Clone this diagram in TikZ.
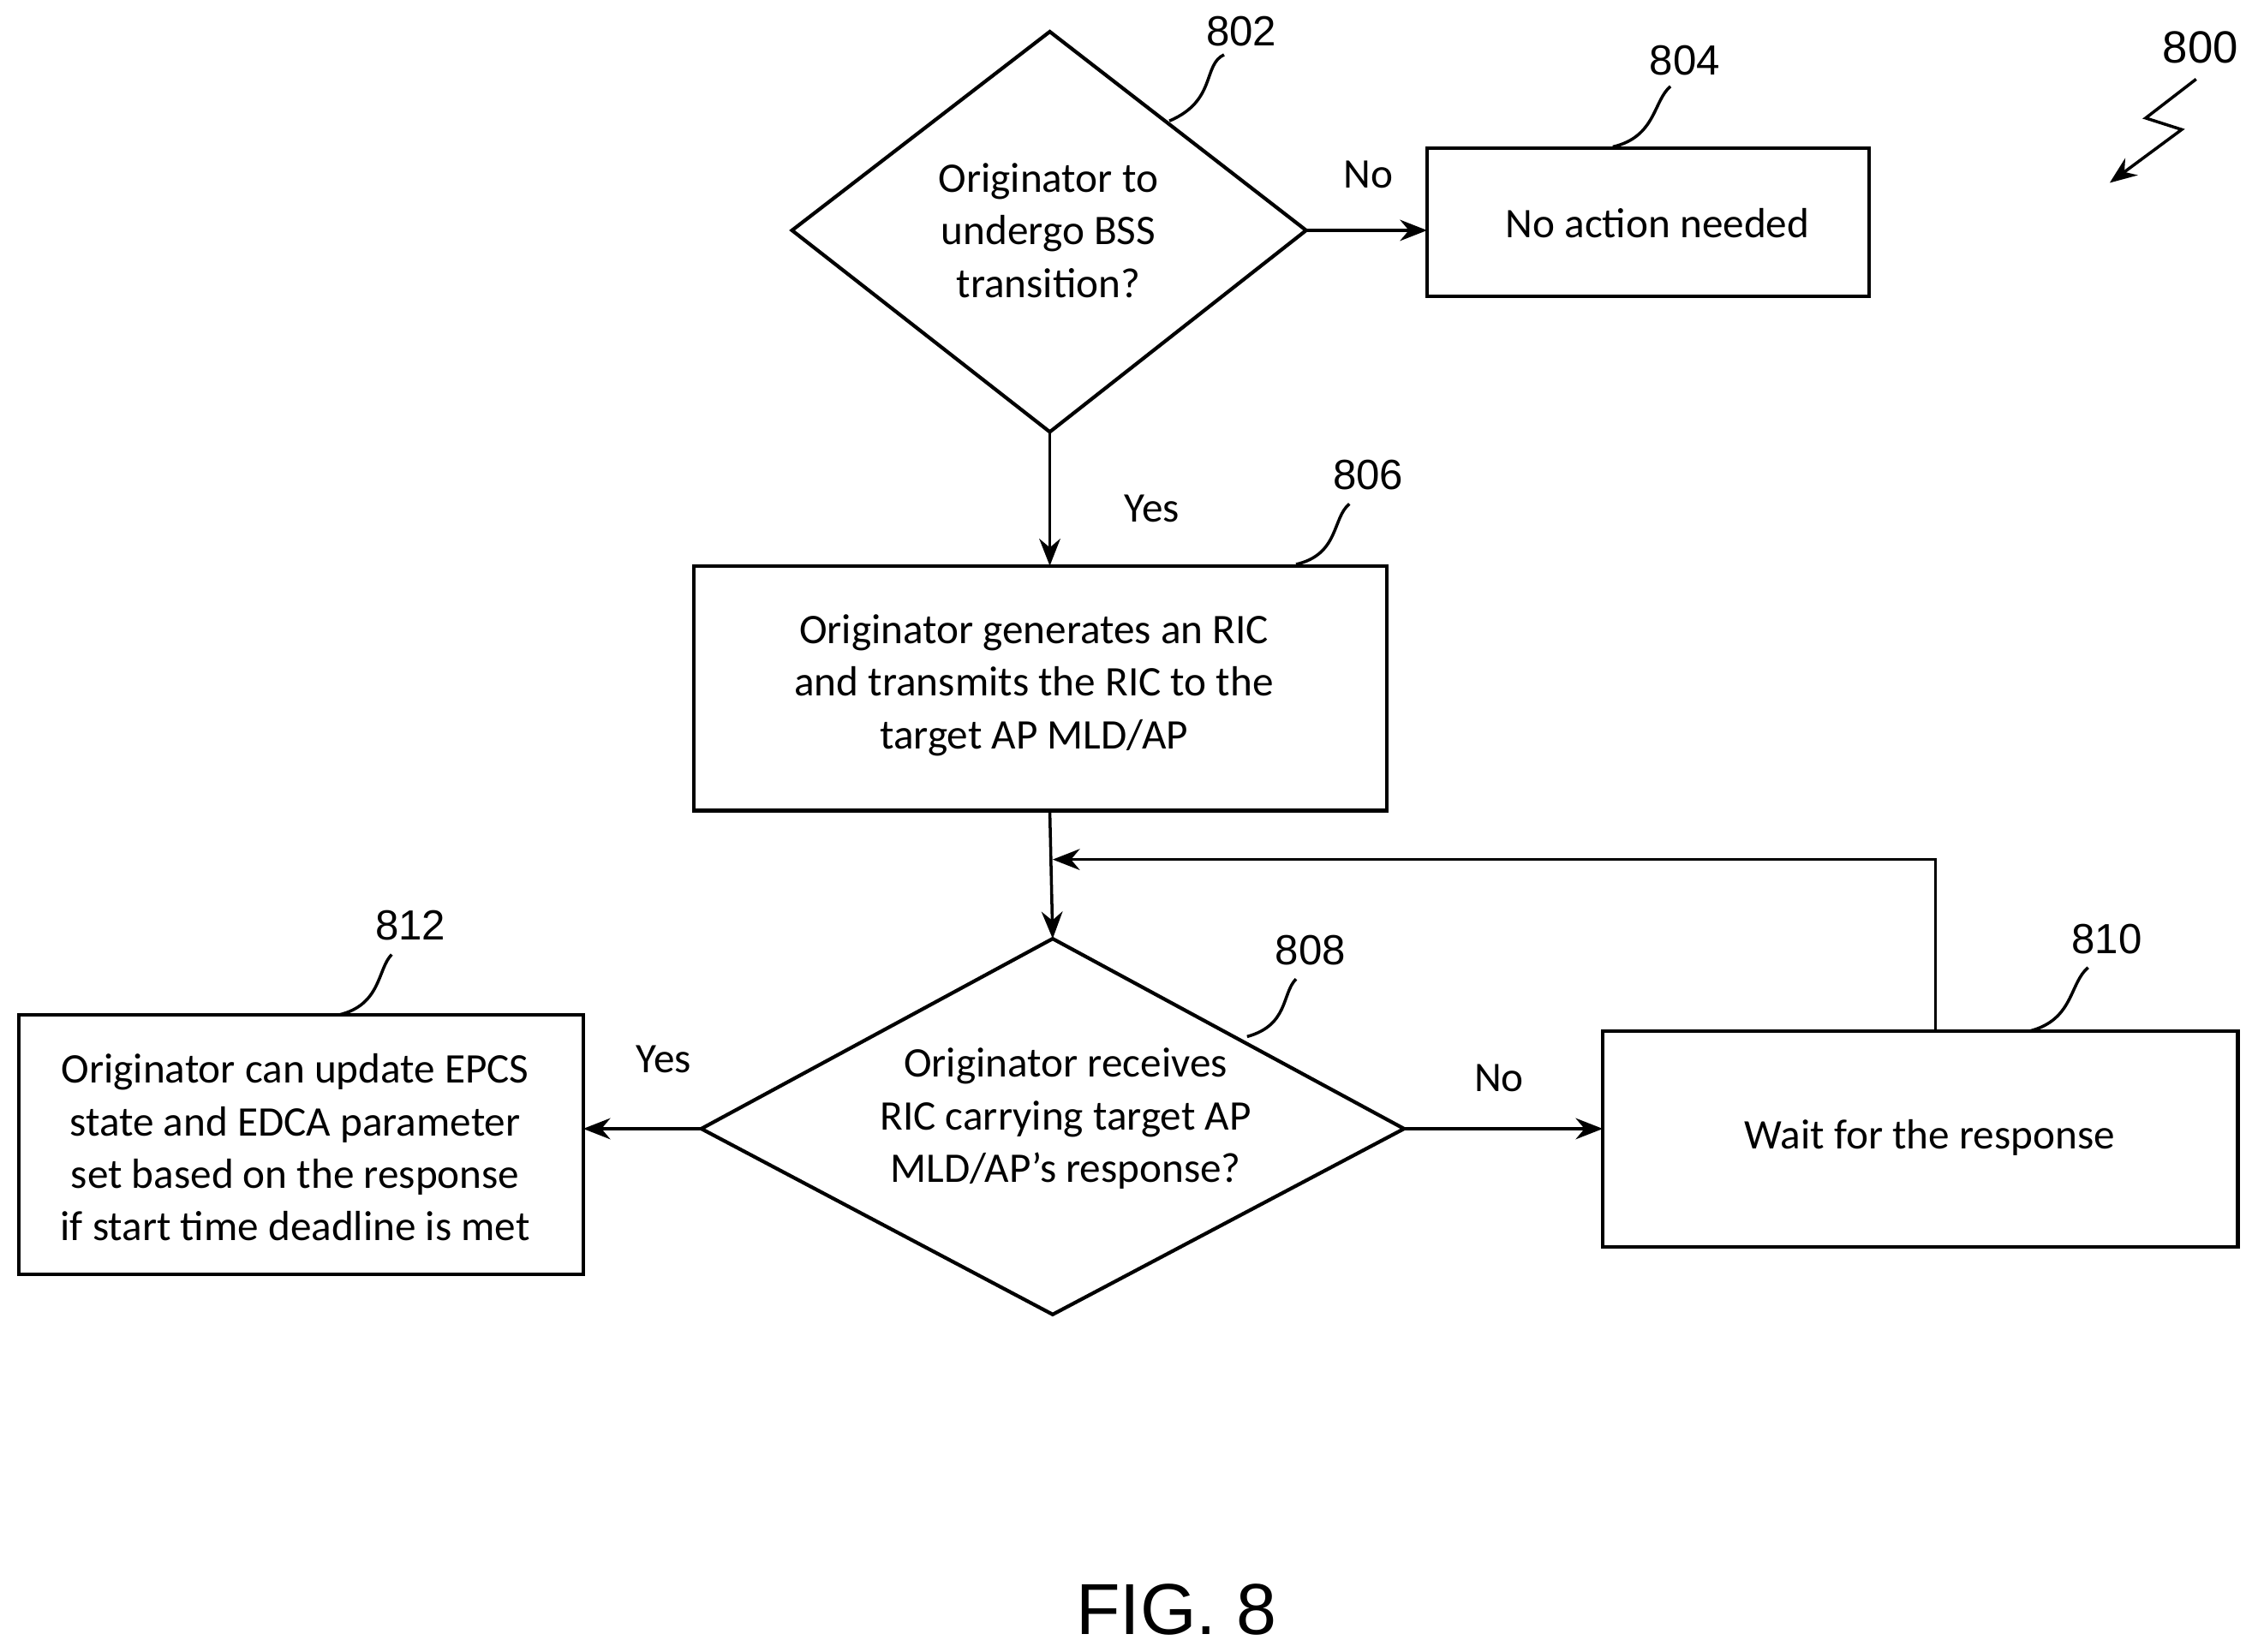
\documentclass[tikz,border=0pt]{standalone}
\usepackage{fontspec}
\setmainfont{Carlito}
\newfontfamily\numfont{Liberation Sans}
\usetikzlibrary{shapes.geometric,arrows.meta}
\begin{document}
\begin{tikzpicture}[x=0.01681cm,y=-0.01681cm,
  line width=1pt,
  box/.style={draw,line width=1.2pt,align=center,font=\fontsize{14}{17.5}\selectfont},
  txt/.style={align=center,font=\fontsize{14}{17.5}\selectfont},
  num/.style={font=\numfont\fontsize{14}{16}\selectfont},
  arr/.style={-{Stealth[length=9pt,width=7pt]},line width=1pt}]
\useasboundingbox (0,0) rectangle (1568,1147);
% diamond 802
\coordinate (d1t) at (729,22); \coordinate (d1b) at (729,300);
\coordinate (d1l) at (550,160); \coordinate (d1r) at (907,160);
\draw[line width=1.2pt] (d1t)--(d1r)--(d1b)--(d1l)--cycle;
\node[txt] (t802) at (728,160) {Originator to\\undergo BSS\\transition?};
% box 804
\draw[line width=1.2pt] (991,103) rectangle (1298,206);
\node[txt] (b804) at (1151,155) {No action needed};
\coordinate (b804l) at (991,160);
\draw[arr] (d1r)--(b804l);
\node[txt] (no1) at (950,121) {No};
% box 806
\draw[line width=1.2pt] (482,393) rectangle (963,563);
\node[txt] (b806) at (718,476) {Originator generates an RIC\\and transmits the RIC to the\\target AP MLD/AP};
\coordinate (b806t) at (729,393); \coordinate (b806b) at (729,563);
\draw[arr] (d1b)--(b806t);
\node[txt] (yes1) at (800,353) {Yes};
% diamond 808
\coordinate (d2t) at (731,652); \coordinate (d2b) at (731,913);
\coordinate (d2l) at (487,784); \coordinate (d2r) at (975,784);
\draw[line width=1.2pt] (d2t)--(d2r)--(d2b)--(d2l)--cycle;
\node[txt] (t808) at (740,777) {Originator receives\\RIC carrying target AP\\MLD/AP’s response?};
\draw[arr] (b806b)--(d2t);
% box 810
\draw[line width=1.2pt] (1113,716) rectangle (1554,866);
\node[txt] (b810) at (1340,790) {Wait for the response};
\coordinate (b810l) at (1113,784); \coordinate (b810t) at (1344,716);
\draw[arr] (d2r)--(b810l);
\node[txt] (no2) at (1041,749) {No};
\coordinate (fb) at (731,597);
\draw[arr] (b810t)--(1344,597)--(fb);
% box 812
\draw[line width=1.2pt] (13,705) rectangle (405,885);
\node[txt] (b812) at (205,797) {Originator can update EPCS\\state and EDCA parameter\\set based on the response\\if start time deadline is met};
\coordinate (b812r) at (405,784);
\draw[arr] (d2l)--(b812r);
\node[txt] (yes2) at (461,736) {Yes};
% reference numbers
\node[num] (n802) at (862,22) {802};
\draw (812,84) .. controls (845,70) and (835,45) .. (850,38);
\node[num] (n804) at (1170,42) {804};
\draw (1120,102) .. controls (1150,95) and (1148,70) .. (1160,60);
\node[num] (n806) at (950,330) {806};
\draw (900,392) .. controls (930,385) and (925,360) .. (937,350);
\node[num] (n808) at (910,660) {808};
\draw (866,720) .. controls (895,712) and (890,690) .. (900,680);
\node[num] (n810) at (1463,652) {810};
\draw (1410,716) .. controls (1440,708) and (1437,683) .. (1450,672);
\node[num] (n812) at (285,643) {812};
\draw (235,705) .. controls (265,698) and (262,673) .. (272,663);
\node[num,font=\numfont\fontsize{15}{16}\selectfont] (n800) at (1528,33) {800};
\draw[-{Stealth[length=9pt,width=7pt]}] (1525,55)--(1490,82)--(1515,90)--(1465,127);
\node[font=\numfont\fontsize{24}{26}\selectfont] (fig) at (817,1118) {FIG. 8};
\end{tikzpicture}
\end{document}
